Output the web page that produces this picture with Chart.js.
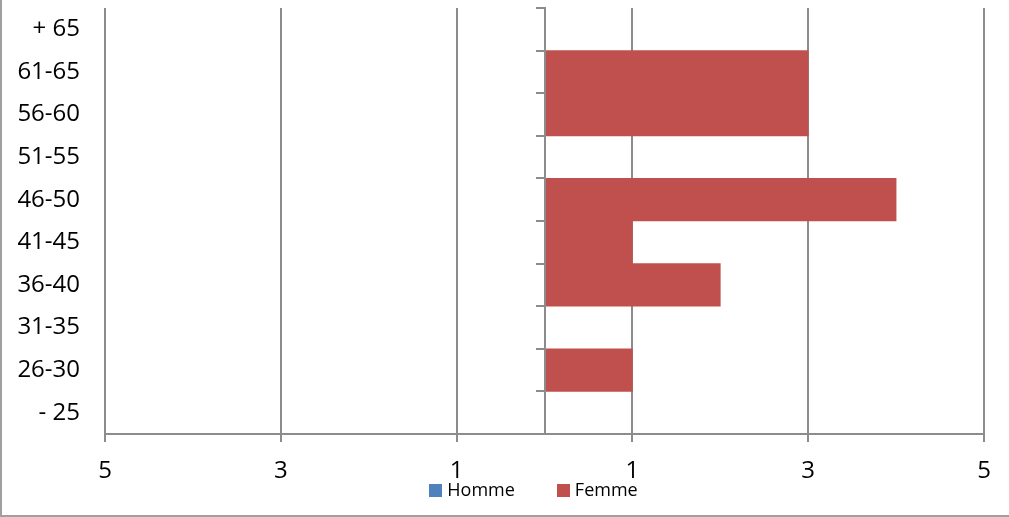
<!DOCTYPE html>
<html><head><meta charset="utf-8">
<script src="https://cdn.jsdelivr.net/npm/chart.js@4/dist/chart.umd.min.js"></script>
<style>html,body{margin:0;padding:0;background:#fff}canvas{display:block}</style>
</head><body>
<canvas id="c" width="1009" height="517"></canvas>
<script>
// Categories listed top to bottom
const categories = ['+ 65','61-65','56-60','51-55','46-50','41-45','36-40','31-35','26-30','- 25'];
const hommeValues = [0,0,0,0,0,0,0,0,0,0];
const femmeValues = [0,3,3,0,4,1,2,0,1,0];
const xTickValues = [-5,-3,-1,1,3,5];
const seriesNames = ['Homme','Femme'];
const seriesColors = ['#4f81bd','#c0504d'];

const gridColor = '#8c8c8c';
const FONT = "'Open Sans', sans-serif";

const framePlugin = {
  id: 'frame',
  afterDraw(chart) {
    const ctx = chart.ctx;
    ctx.save();
    ctx.strokeStyle = '#a0a0a0';
    ctx.lineWidth = 2;
    ctx.beginPath();
    ctx.moveTo(1, 0);
    ctx.lineTo(1, 516);
    ctx.lineTo(chart.width, 516);
    ctx.stroke();
    ctx.restore();
  }
};

// Legend drawn below the axis labels (Excel-style spacing)
const legendPlugin = {
  id: 'bottomLegend',
  afterDraw(chart) {
    const ctx = chart.ctx;
    const area = chart.chartArea;
    ctx.save();
    ctx.font = "18px " + FONT;
    ctx.textBaseline = 'middle';
    ctx.textAlign = 'left';
    const box = 13, gap = 5, spacing = 42;
    const ds = chart.data.datasets;
    const widths = ds.map(d => ctx.measureText(d.label).width);
    const total = widths.reduce((a, w) => a + box + gap + w, 0) + spacing * (ds.length - 1);
    let x = (area.left + area.right) / 2 - 11 - total / 2;
    const y = area.bottom + 56.5;
    ds.forEach((d, i) => {
      ctx.fillStyle = d.backgroundColor;
      ctx.fillRect(Math.round(x), Math.round(y - 6.5), box, box);
      ctx.fillStyle = '#000';
      ctx.fillText(d.label, x + box + gap, y);
      x += box + gap + widths[i] + spacing;
    });
    ctx.restore();
  }
};

new Chart(document.getElementById('c'), {
  type: 'bar',
  data: {
    labels: categories,
    datasets: [
      { label: seriesNames[0], data: hommeValues.map(v => v ? -v : null), backgroundColor: seriesColors[0], borderWidth: 0, barPercentage: 1, categoryPercentage: 1 },
      { label: seriesNames[1], data: femmeValues.map(v => v || null), backgroundColor: seriesColors[1], borderWidth: 0, barPercentage: 1, categoryPercentage: 1 }
    ]
  },
  options: {
    indexAxis: 'y',
    responsive: false,
    animation: false,
    devicePixelRatio: 1,
    layout: { padding: { left: 0, right: 25, top: 8, bottom: 33 } },
    plugins: {
      legend: { display: false },
      tooltip: { enabled: false }
    },
    scales: {
      x: {
        type: 'linear', min: -5, max: 5, stacked: true,
        afterBuildTicks(s) { s.ticks = xTickValues.map(v => ({ value: v })); },
        afterFit(s) { s.height = 50; s.paddingLeft = 0; s.paddingRight = 0; },
        grid: { color: gridColor, lineWidth: 2, tickLength: 8, drawTicks: true },
        border: { color: gridColor, width: 2 },
        ticks: { padding: 15, color: '#000', font: { family: FONT, size: 24 }, callback: (v) => String(Math.abs(v)), maxRotation: 0, autoSkip: false }
      },
      y: {
        type: 'category', position: 'left', stacked: true, offset: true,
        grid: { display: false, drawTicks: false },
        border: { display: false },
        ticks: { padding: 25, color: '#000', font: { family: FONT, size: 24 }, autoSkip: false },
        afterFit(s) { s.width = 105; s.paddingTop = 0; s.paddingBottom = 0; }
      },
      y2: {
        type: 'category', labels: categories, position: { x: 0 }, offset: true,
        grid: { offset: true, drawOnChartArea: false, drawTicks: true, tickLength: 8, color: gridColor, lineWidth: 2, z: 1 },
        border: { color: gridColor, width: 2, z: 1 },
        ticks: { display: false },
        afterFit(s) { s.paddingTop = 0; s.paddingBottom = 0; }
      }
    }
  },
  plugins: [framePlugin, legendPlugin]
});
</script>
</body></html>
